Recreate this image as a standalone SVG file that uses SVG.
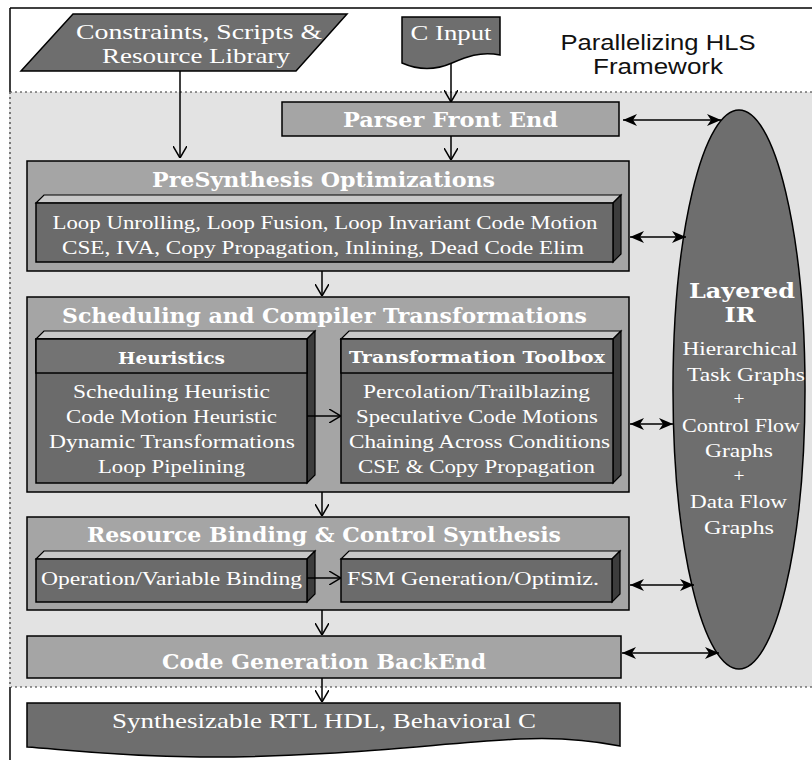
<svg xmlns="http://www.w3.org/2000/svg" width="812" height="760" viewBox="0 0 812 760">
  <style>
    .ser { font-family: "DejaVu Serif", "Liberation Serif", serif; fill: #ffffff; text-anchor: middle; }
    .body { font-family: "Liberation Serif", "DejaVu Serif", serif; font-size: 19.5px; }
    .hd { font-size: 20px; font-weight: bold; }
    .sub { font-size: 16px; font-weight: bold; }
    .title { font-family: "Liberation Sans", "DejaVu Sans", sans-serif; font-size: 22px; fill: #111111; text-anchor: middle; }
    .stage { fill: #a5a5a5; stroke: #000; stroke-width: 1.5; }
    .front { fill: #6b6b6b; stroke: #000; stroke-width: 1.5; }
    .topf { fill: #c8c8c8; stroke: #000; stroke-width: 1.2; }
    .side { fill: #3c3c3c; stroke: #000; stroke-width: 1.2; }
    .dark { fill: #6e6e6e; stroke: #000; stroke-width: 1.5; }
    .conn { stroke: #000; stroke-width: 1.5; fill: none; }
  </style>
  <defs>
    <marker id="open" viewBox="0 0 12 14" refX="12" refY="7" markerWidth="12" markerHeight="14" markerUnits="userSpaceOnUse" orient="auto">
      <path d="M0,0 L12,7 L0,14" fill="none" stroke="#000" stroke-width="1.5"/>
    </marker>
    <marker id="barb" viewBox="0 0 14 12" refX="14" refY="6" markerWidth="14" markerHeight="12" markerUnits="userSpaceOnUse" orient="auto-start-reverse">
      <path d="M0,0 L14,6 L0,12 L4,6 Z" fill="#000"/>
    </marker>
  </defs>

  <!-- page frame and shaded framework area -->
  <rect x="0" y="0" width="812" height="760" fill="#ffffff"/>
  <line x1="10" y1="8" x2="812" y2="8" stroke="#000" stroke-width="1.5"/>
  <line x1="10" y1="8" x2="10" y2="760" stroke="#000" stroke-width="1.5"/>
  <rect x="10" y="92" width="820" height="595" fill="#e3e3e3"/>
  <line x1="10" y1="92" x2="812" y2="92" stroke="#333" stroke-width="1.2" stroke-dasharray="2,3"/>
  <line x1="10" y1="687" x2="812" y2="687" stroke="#333" stroke-width="1.2" stroke-dasharray="2,3"/>
  <line x1="10" y1="92" x2="10" y2="687" stroke="#e3e3e3" stroke-width="2"/>
  <line x1="10" y1="92" x2="10" y2="687" stroke="#333" stroke-width="1.2" stroke-dasharray="2,3"/>

  <g id="title">
    <text class="title" x="658" y="50" textLength="195" lengthAdjust="spacingAndGlyphs">Parallelizing HLS</text>
    <text class="title" x="658" y="74" textLength="130" lengthAdjust="spacingAndGlyphs">Framework</text>
  </g>

  <g id="constraints">
    <polygon class="dark" points="73,14 347,14 296,71 21,71"/>
    <text class="ser body" x="199" y="39" textLength="246" lengthAdjust="spacingAndGlyphs" style="font-size:21px">Constraints, Scripts &amp;</text>
    <text class="ser body" x="196" y="63" textLength="188" lengthAdjust="spacingAndGlyphs" style="font-size:21px">Resource Library</text>
  </g>

  <g id="c-input">
    <path class="dark" d="M402,17 H500 V55 C480,51 466,57 452,63 C436,70 418,70 402,63 Z"/>
    <text class="ser body" x="451" y="40" textLength="81" lengthAdjust="spacingAndGlyphs" style="font-size:21px">C Input</text>
  </g>

  <g id="parser">
    <rect class="stage" x="282" y="102" width="337" height="34"/>
    <text class="ser hd" x="450.5" y="127" textLength="215" lengthAdjust="spacingAndGlyphs">Parser Front End</text>
  </g>

  <g id="presynthesis">
    <rect class="stage" x="27" y="161" width="602" height="110"/>
    <text class="ser hd" x="323.5" y="187" textLength="343" lengthAdjust="spacingAndGlyphs">PreSynthesis Optimizations</text>
    <polygon class="topf" points="36,203 44,195 621,195 613,203"/>
    <polygon class="side" points="613,203 621,195 621,254 613,262"/>
    <rect class="front" x="36" y="203" width="577" height="59"/>
    <text class="ser body" x="325" y="229" textLength="545" lengthAdjust="spacingAndGlyphs">Loop Unrolling, Loop Fusion, Loop Invariant Code Motion</text>
    <text class="ser body" x="323" y="254" textLength="522" lengthAdjust="spacingAndGlyphs">CSE, IVA, Copy Propagation, Inlining, Dead Code Elim</text>
  </g>

  <g id="scheduling">
    <rect class="stage" x="27" y="297" width="602" height="195"/>
    <text class="ser hd" x="324.5" y="323" textLength="525" lengthAdjust="spacingAndGlyphs">Scheduling and Compiler Transformations</text>
  </g>

  <g id="heuristics">
    <polygon class="topf" points="36,339 44,331 315,331 307,339"/>
    <polygon class="side" points="307,339 315,331 315,475 307,483"/>
    <rect class="front" x="36" y="339" width="271" height="144"/>
    <rect x="36" y="339" width="271" height="34" fill="#737373" stroke="#000" stroke-width="1.5"/>
    <text class="ser sub" x="171.5" y="364" textLength="107" lengthAdjust="spacingAndGlyphs">Heuristics</text>
    <text class="ser body" x="171.5" y="398" textLength="197" lengthAdjust="spacingAndGlyphs">Scheduling Heuristic</text>
    <text class="ser body" x="171.5" y="423" textLength="211" lengthAdjust="spacingAndGlyphs">Code Motion Heuristic</text>
    <text class="ser body" x="172" y="448" textLength="246" lengthAdjust="spacingAndGlyphs">Dynamic Transformations</text>
    <text class="ser body" x="171.5" y="473" textLength="147" lengthAdjust="spacingAndGlyphs">Loop Pipelining</text>
  </g>

  <g id="toolbox">
    <polygon class="topf" points="341,339 349,331 621,331 613,339"/>
    <polygon class="side" points="613,339 621,331 621,475 613,483"/>
    <rect class="front" x="341" y="339" width="272" height="144"/>
    <rect x="341" y="339" width="272" height="34" fill="#737373" stroke="#000" stroke-width="1.5"/>
    <text class="ser sub" x="477" y="363" textLength="256" lengthAdjust="spacingAndGlyphs">Transformation Toolbox</text>
    <text class="ser body" x="476.5" y="398" textLength="227" lengthAdjust="spacingAndGlyphs">Percolation/Trailblazing</text>
    <text class="ser body" x="477" y="423" textLength="242" lengthAdjust="spacingAndGlyphs">Speculative Code Motions</text>
    <text class="ser body" x="479.5" y="448" textLength="261" lengthAdjust="spacingAndGlyphs">Chaining Across Conditions</text>
    <text class="ser body" x="476.5" y="473" textLength="237" lengthAdjust="spacingAndGlyphs">CSE &amp; Copy Propagation</text>
  </g>

  <g id="binding">
    <rect class="stage" x="27" y="517" width="602" height="93"/>
    <text class="ser hd" x="324" y="542" textLength="474" lengthAdjust="spacingAndGlyphs">Resource Binding &amp; Control Synthesis</text>
  </g>

  <g id="op-binding">
    <polygon class="topf" points="36,559 44,551 315,551 307,559"/>
    <polygon class="side" points="307,559 315,551 315,594 307,602"/>
    <rect class="front" x="36" y="559" width="271" height="43"/>
    <text class="ser body" x="171.5" y="585" textLength="261" lengthAdjust="spacingAndGlyphs">Operation/Variable Binding</text>
  </g>

  <g id="fsm">
    <polygon class="topf" points="341,559 349,551 620,551 612,559"/>
    <polygon class="side" points="612,559 620,551 620,594 612,602"/>
    <rect class="front" x="341" y="559" width="271" height="43"/>
    <text class="ser body" x="473" y="585" textLength="252" lengthAdjust="spacingAndGlyphs">FSM Generation/Optimiz.</text>
  </g>

  <g id="codegen">
    <rect class="stage" x="27" y="636" width="594" height="42"/>
    <text class="ser hd" x="324" y="669" textLength="324" lengthAdjust="spacingAndGlyphs">Code Generation BackEnd</text>
  </g>

  <g id="output">
    <path class="dark" d="M27,703 H620 V746 C590,740 560,737 520,739 C440,743 330,758 200,757 C110,756 60,749 27,747 Z"/>
    <text class="ser body" x="324" y="728" textLength="424" lengthAdjust="spacingAndGlyphs" style="font-size:21px">Synthesizable RTL HDL, Behavioral C</text>
  </g>

  <g id="layered-ir">
    <ellipse class="dark" cx="739" cy="389.5" rx="66" ry="279.5"/>
    <text class="ser hd" x="742" y="298" textLength="106" lengthAdjust="spacingAndGlyphs">Layered</text>
    <text class="ser hd" x="740" y="322" textLength="31" lengthAdjust="spacingAndGlyphs">IR</text>
    <text class="ser body" x="740" y="355" textLength="115" lengthAdjust="spacingAndGlyphs">Hierarchical</text>
    <text class="ser body" x="746" y="381" textLength="118" lengthAdjust="spacingAndGlyphs">Task Graphs</text>
    <text class="ser body" x="739" y="405">+</text>
    <text class="ser body" x="741" y="432" textLength="118" lengthAdjust="spacingAndGlyphs">Control Flow</text>
    <text class="ser body" x="739" y="457" textLength="68" lengthAdjust="spacingAndGlyphs">Graphs</text>
    <text class="ser body" x="739" y="482">+</text>
    <text class="ser body" x="738.5" y="508" textLength="97" lengthAdjust="spacingAndGlyphs">Data Flow</text>
    <text class="ser body" x="739" y="534" textLength="70" lengthAdjust="spacingAndGlyphs">Graphs</text>
  </g>

  <g id="connectors">
    <!-- flow arrows -->
    <line class="conn" x1="180" y1="71" x2="180" y2="158" marker-end="url(#open)"/>
    <line class="conn" x1="451" y1="63" x2="451" y2="102" marker-end="url(#open)"/>
    <line class="conn" x1="451" y1="136" x2="451" y2="160" marker-end="url(#open)"/>
    <line class="conn" x1="322" y1="271" x2="322" y2="296" marker-end="url(#open)"/>
    <line class="conn" x1="307" y1="416" x2="341" y2="416" marker-end="url(#open)"/>
    <line class="conn" x1="322" y1="492" x2="322" y2="516" marker-end="url(#open)"/>
    <line class="conn" x1="307" y1="578" x2="341" y2="578" marker-end="url(#open)"/>
    <line class="conn" x1="322" y1="610" x2="322" y2="635" marker-end="url(#open)"/>
    <line class="conn" x1="322" y1="678" x2="322" y2="702" marker-end="url(#open)"/>
    <!-- IR exchange arrows -->
    <line class="conn" x1="623" y1="120" x2="721" y2="120" marker-start="url(#barb)" marker-end="url(#barb)"/>
    <line class="conn" x1="630" y1="237" x2="686" y2="237" marker-start="url(#barb)" marker-end="url(#barb)"/>
    <line class="conn" x1="630" y1="424" x2="673" y2="424" marker-start="url(#barb)" marker-end="url(#barb)"/>
    <line class="conn" x1="630" y1="585" x2="694" y2="585" marker-start="url(#barb)" marker-end="url(#barb)"/>
    <line class="conn" x1="622" y1="653" x2="719" y2="653" marker-start="url(#barb)" marker-end="url(#barb)"/>
  </g>
</svg>
